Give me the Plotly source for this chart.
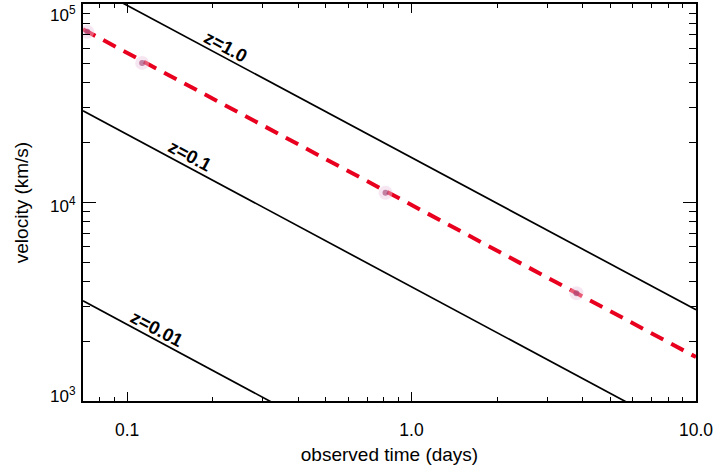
import numpy as np
import plotly.graph_objects as go

# ---- data ----
line_t = [0.07, 10.0]                      # observed time (days) at line ends
z10_v = [129400, 2880]                     # z=1.0 velocity (km/s)
z01_v = [29000, 641]                       # z=0.1
z001_v = [3200, 70]                        # z=0.01
red_t = [0.07, 10.0]
red_v = [74600, 1665]                      # dashed fit
pts_t = [0.0725, 0.113, 0.81, 3.8]         # observed points
pts_v = [72400, 50500, 11200, 3490]
labels = ["z=1.0", "z=0.1", "z=0.01"]
label_logt = [-0.653, -0.780, -0.896]

x_ticks = [0.1, 1.0, 10.0]
x_ticktext = ["0.1", "1.0", "10.0"]
y_ticks = [1e3, 1e4, 1e5]
y_ticktext = ["10<sup>3</sup>", "10<sup>4</sup>", "10<sup>5</sup>"]
y_label_shift = [6, -2, -10]

FONT = "Liberation Sans, Arial, sans-serif"

fig = go.Figure()
for v in (z10_v, z01_v, z001_v):
    fig.add_trace(go.Scatter(x=line_t, y=v, mode="lines",
                             line=dict(color="black", width=1.7),
                             showlegend=False, hoverinfo="skip"))
fig.add_trace(go.Scatter(x=red_t, y=red_v, mode="lines",
                         line=dict(color="rgb(232,0,30)", width=4, dash="14px,9px"),
                         showlegend=False))
fig.add_trace(go.Scatter(x=pts_t, y=pts_v, mode="markers",
                         marker=dict(size=14, color="rgba(235,200,225,0.45)"),
                         showlegend=False))
fig.add_trace(go.Scatter(x=pts_t, y=pts_v, mode="markers",
                         marker=dict(size=6, color="rgba(160,60,110,0.6)"),
                         showlegend=False))

# labels along lines
for name, v, lt in zip(labels, (z10_v, z01_v, z001_v), label_logt):
    lx = np.log10(line_t)
    ly = np.log10(v)
    y_at = np.interp(lt, lx, ly)
    fig.add_annotation(x=lt, y=y_at, text="<b>" + name + "</b>", showarrow=False,
                       textangle=28, yshift=12,
                       font=dict(family=FONT, size=18.5, color="black"))

# y tick labels (IDL-style, kept inside the axis span)
for val, txt, sh in zip(y_ticks, y_ticktext, y_label_shift):
    fig.add_annotation(x=0, xref="paper", y=np.log10(val), yref="y",
                       text=txt, showarrow=False, xanchor="right", yanchor="middle",
                       xshift=-5, yshift=sh,
                       font=dict(family=FONT, size=17, color="black"))

minor_x = [k * 10.0 ** e for e in (-2, -1, 0) for k in range(2, 10)]
minor_x = [m for m in minor_x if 0.07 <= m <= 10]
minor_y = [k * 10.0 ** e for e in (3, 4) for k in range(2, 10)]

fig.update_xaxes(type="log", range=[np.log10(0.07), 1.0], automargin=False,
                 tickvals=x_ticks, ticktext=x_ticktext,
                 ticks="inside", ticklen=9, tickwidth=1.2, tickcolor="black",
                 minor=dict(tickvals=minor_x, ticks="inside", ticklen=4,
                            tickwidth=1, tickcolor="black", showgrid=False),
                 showline=True, linecolor="black", linewidth=1.5, mirror="ticks",
                 showgrid=False, zeroline=False, ticklabelstandoff=12,
                 tickfont=dict(family=FONT, size=17.5, color="black"),
                 title=dict(text="observed time (days)", standoff=9,
                            font=dict(family=FONT, size=19, color="black")))
fig.update_yaxes(type="log", range=[3, 5], automargin=False,
                 tickvals=y_ticks, showticklabels=False,
                 ticks="inside", ticklen=13, tickwidth=1.2, tickcolor="black",
                 minor=dict(tickvals=minor_y, ticks="inside", ticklen=7,
                            tickwidth=1, tickcolor="black", showgrid=False),
                 showline=True, linecolor="black", linewidth=1.5, mirror="ticks",
                 showgrid=False, zeroline=False,
                 title=dict(text="velocity (km/s)", standoff=48,
                            font=dict(family=FONT, size=19, color="black")))

fig.update_layout(width=716, height=473,
                  margin=dict(l=83, r=20, t=4, b=72),
                  plot_bgcolor="white", paper_bgcolor="white")

fig.write_html("out.html", config={"displayModeBar": False},
               post_script="document.body.style.margin='0';document.body.style.overflow='hidden';")
